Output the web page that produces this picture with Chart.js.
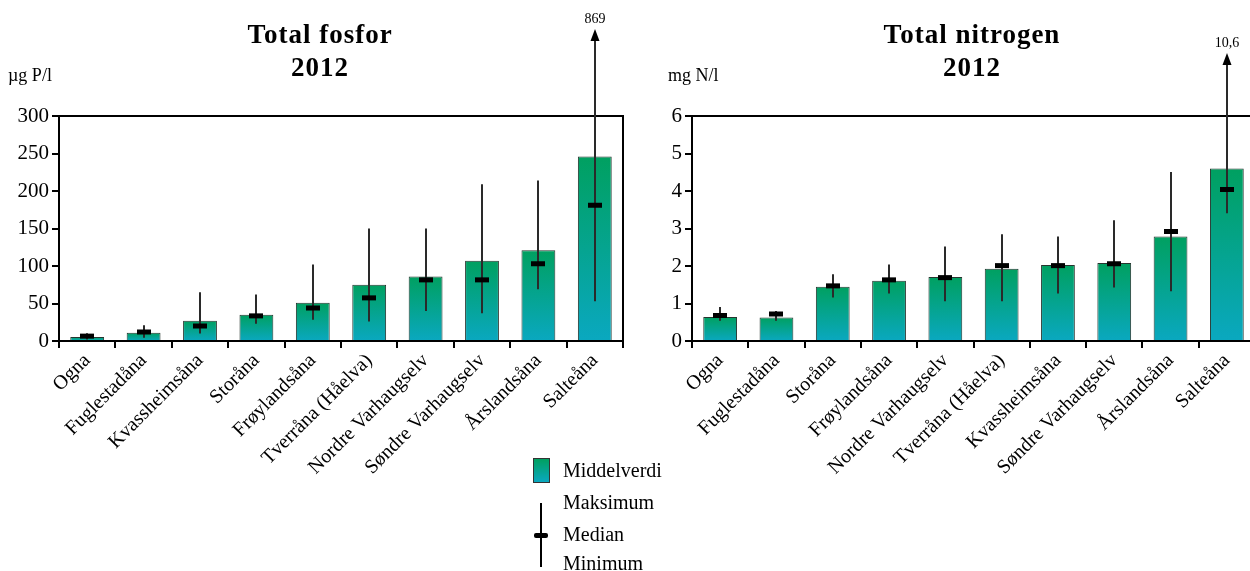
<!DOCTYPE html>
<html lang="no">
<head>
  <meta charset="UTF-8" />
  <title>Total fosfor og nitrogen 2012</title>
  <style>
    body {
      margin: 0;
      padding: 0;
      width: 1250px;
      height: 571px;
      overflow: hidden;
      position: relative;
      background: #fff;
      font-family: "Liberation Serif", "DejaVu Serif", serif;
      color: #000;
    }
    .box { position: absolute; top: 0; width: 640px; height: 571px; }
    .title {
      position: absolute;
      top: 18px;
      width: 300px;
      text-align: center;
      font-weight: bold;
      font-size: 27px;
      line-height: 33px;
      letter-spacing: 1px;
    }
    .unit { position: absolute; top: 65px; font-size: 18px; }
    .legtxt { position: absolute; left: 563px; font-size: 20px; line-height: 22px; }
    #swatch {
      position: absolute; left: 533px; top: 458px; width: 15px; height: 23px;
      border: 1px solid #333;
      background: linear-gradient(#00a060, #0aa8c0);
    }
    #whisk { position: absolute; left: 540px; top: 503px; width: 2px; height: 64px; background: #000; }
    #med { position: absolute; left: 534px; top: 533px; width: 14px; height: 5px; background: #000; border-radius: 2px; }
  </style>
</head>
<body>
  <div class="box" style="left:0"><canvas id="fosfor" width="640" height="571"></canvas></div>
  <div class="box" style="left:633px"><canvas id="nitrogen" width="640" height="571"></canvas></div>

  <div class="title" style="left:170px">Total fosfor<br>2012</div>
  <div class="title" style="left:822px">Total nitrogen<br>2012</div>
  <div class="unit" style="left:8px">µg P/l</div>
  <div class="unit" style="left:668px">mg N/l</div>

  <div id="swatch"></div>
  <div class="legtxt" style="top:459px">Middelverdi</div>
  <div id="whisk"></div>
  <div id="med"></div>
  <div class="legtxt" style="top:491px">Maksimum</div>
  <div class="legtxt" style="top:523px">Median</div>
  <div class="legtxt" style="top:552px">Minimum</div>

  <script src="https://cdn.jsdelivr.net/npm/chart.js"></script>
  <script>
    // Total fosfor (µg P/l)
    const catsP = ['Ogna', 'Fuglestadåna', 'Kvassheimsåna', 'Storåna', 'Frøylandsåna',
      'Tverråna (Håelva)', 'Nordre Varhaugselv', 'Søndre Varhaugselv', 'Årslandsåna', 'Salteåna'];
    const meanP = [5.5, 11, 27, 35, 51, 75, 86, 107, 121, 246];
    const medianP = [6.5, 12, 20, 33.5, 44, 57.5, 81.5, 81.5, 103, 181];
    const maxP = [10.5, 21, 65, 62, 102, 150, 150, 209, 214, 869];
    const minP = [2, 4.5, 10, 23, 28.5, 26, 40, 37, 69, 53];
    const ticksP = [0, 50, 100, 150, 200, 250, 300];

    // Total nitrogen (mg N/l)
    const catsN = ['Ogna', 'Fuglestadåna', 'Storåna', 'Frøylandsåna', 'Nordre Varhaugselv',
      'Tverråna (Håelva)', 'Kvassheimsåna', 'Søndre Varhaugselv', 'Årslandsåna', 'Salteåna'];
    const meanN = [0.64, 0.63, 1.45, 1.61, 1.71, 1.93, 2.03, 2.08, 2.79, 4.6];
    const medianN = [0.68, 0.72, 1.47, 1.63, 1.69, 2.01, 2.01, 2.06, 2.92, 4.04];
    const maxN = [0.91, 0.8, 1.78, 2.04, 2.52, 2.85, 2.79, 3.22, 4.51, 10.6];
    const minN = [0.54, 0.54, 1.16, 1.27, 1.06, 1.06, 1.27, 1.43, 1.33, 3.41];
    const ticksN = [0, 1, 2, 3, 4, 5, 6];

    const serif = '"Liberation Serif", "DejaVu Serif", serif';

    // gradient per bar, green at the top to teal at the base
    function barFill(ctx) {
      const chart = ctx.chart;
      if (!chart.chartArea || ctx.raw === undefined) return '#00a58a';
      const y = chart.scales.y;
      const top = y.getPixelForValue(ctx.raw);
      const bottom = y.getPixelForValue(0);
      const g = chart.ctx.createLinearGradient(0, top, 0, bottom);
      g.addColorStop(0, '#00a060');
      g.addColorStop(1, '#0aa8c0');
      return g;
    }

    // frame (top + right), whiskers, medians and the off-scale arrow
    const boxPlot = {
      id: 'boxPlot',
      afterDatasetsDraw(chart, args, opts) {
        const { ctx, chartArea: a } = chart;
        const xs = chart.scales.x, ys = chart.scales.y;
        ctx.save();
        ctx.strokeStyle = '#000';
        ctx.lineWidth = 2;
        ctx.beginPath();
        ctx.moveTo(a.left, a.top);
        ctx.lineTo(a.right, a.top);
        ctx.lineTo(a.right, a.bottom);
        ctx.stroke();

        opts.max.forEach((mx, i) => {
          const x = Math.round(xs.getPixelForValue(i));
          const yLo = ys.getPixelForValue(opts.min[i]);
          const off = mx > ys.max;
          const yHi = off ? a.top - opts.rise : ys.getPixelForValue(mx);
          ctx.strokeStyle = '#2a2a2a';
          ctx.lineWidth = 2;
          ctx.beginPath();
          ctx.moveTo(x, yLo);
          ctx.lineTo(x, off ? yHi + 8 : yHi);
          ctx.stroke();
          if (off) {
            ctx.fillStyle = '#000';
            ctx.beginPath();
            ctx.moveTo(x, yHi);
            ctx.lineTo(x - 4.5, yHi + 12);
            ctx.lineTo(x + 4.5, yHi + 12);
            ctx.closePath();
            ctx.fill();
            ctx.font = '14px ' + serif;
            ctx.textAlign = 'center';
            ctx.textBaseline = 'bottom';
            ctx.fillText(String(mx).replace('.', ','), x, yHi - 3);
          }
          const ym = ys.getPixelForValue(opts.median[i]);
          ctx.fillStyle = '#000';
          ctx.fillRect(x - 7, ym - 2.5, 14, 5);
        });
        ctx.restore();
      }
    };

    function makeChart(id, cats, mean, median, mx, mn, ticks, rise, rightPad) {
      return new Chart(document.getElementById(id), {
        type: 'bar',
        data: {
          labels: cats,
          datasets: [{
            data: mean,
            backgroundColor: barFill,
            borderColor: '#26352f',
            borderWidth: 1,
            barPercentage: 0.6,
            categoryPercentage: 1.0
          }]
        },
        options: {
          responsive: false,
          animation: false,
          devicePixelRatio: 1,
          layout: { padding: { top: 116, left: 0, right: rightPad, bottom: 0 } },
          plugins: {
            legend: { display: false },
            tooltip: { enabled: false },
            boxPlot: { median: median, max: mx, min: mn, rise: rise }
          },
          scales: {
            x: {
              afterFit: s => { s.height = 230; },
              border: { display: true, color: '#000', width: 2 },
              grid: { offset: true, drawOnChartArea: false, tickLength: 7, color: '#000', lineWidth: 2 },
              ticks: {
                autoSkip: false, maxRotation: 45, minRotation: 45, padding: 1,
                color: '#000', font: { family: serif, size: 20 }
              }
            },
            y: {
              min: ticks[0],
              max: ticks[ticks.length - 1],
              afterFit: s => { s.width = 59; },
              afterBuildTicks: s => { s.ticks = ticks.map(v => ({ value: v })); },
              border: { display: true, color: '#000', width: 2 },
              grid: { drawOnChartArea: false, tickLength: 7, color: '#000', lineWidth: 2 },
              ticks: { padding: 3, color: '#000', font: { family: serif, size: 21 } }
            }
          }
        },
        plugins: [boxPlot]
      });
    }

    makeChart('fosfor', catsP, meanP, medianP, maxP, minP, ticksP, 87, 17);
    makeChart('nitrogen', catsN, meanN, medianN, maxN, minN, ticksN, 63, 18);
  </script>
</body>
</html>
